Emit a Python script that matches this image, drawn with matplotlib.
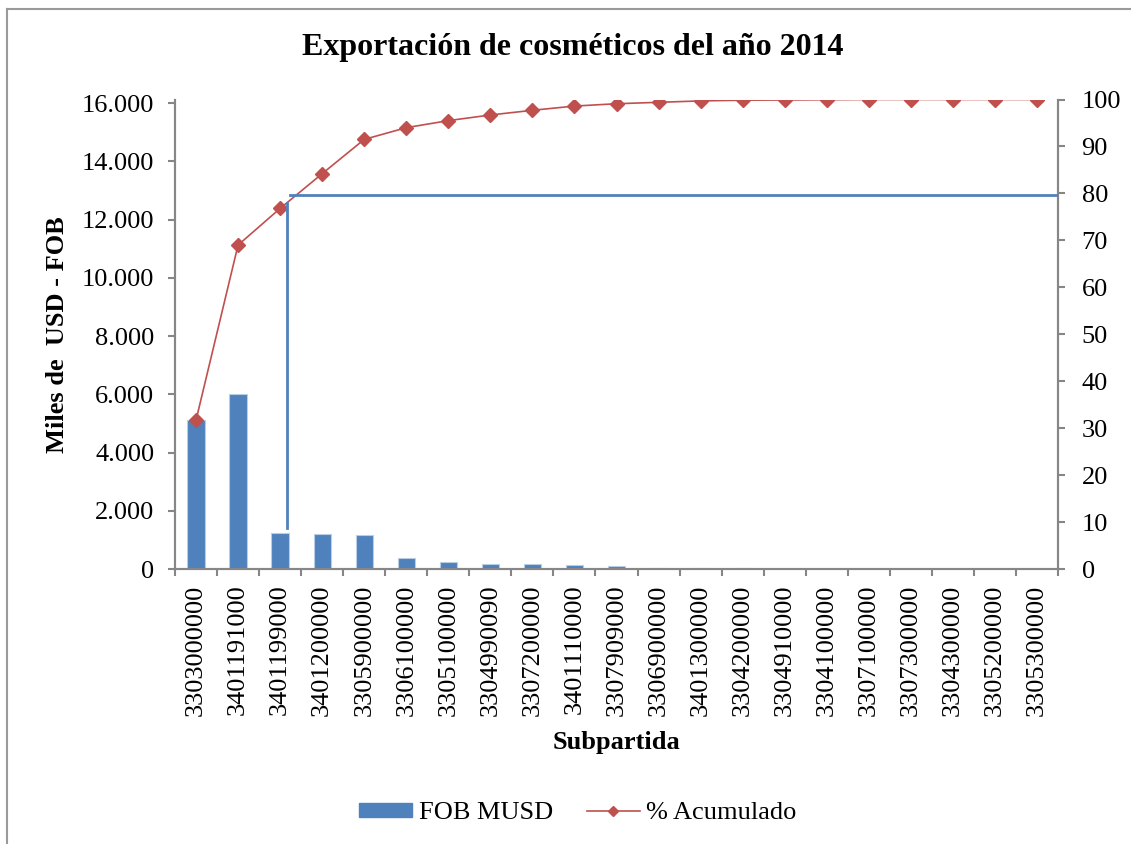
import numpy as np
import matplotlib
matplotlib.use("Agg")
import matplotlib.pyplot as plt
from matplotlib.lines import Line2D
from matplotlib.ticker import FuncFormatter

plt.rcParams['font.family'] = ['Liberation Serif', 'DejaVu Serif']

subpartidas = ['3303000000', '3401191000', '3401199000', '3401200000', '3305900000',
               '3306100000', '3305100000', '3304990090', '3307200000', '3401110000',
               '3307909000', '3306900000', '3401300000', '3304200000', '3304910000',
               '3304100000', '3307100000', '3307300000', '3304300000', '3305200000',
               '3305300000']
fob_musd = [5105, 6024, 1239, 1205, 1170, 379, 241, 182, 158, 138,
            103, 45, 35, 20, 15, 10, 8, 5, 4, 2, 2]
acumulado = [31.7, 69.0, 76.8, 84.2, 91.5, 94.0, 95.5, 96.7, 97.7, 98.6,
             99.1, 99.4, 99.7, 99.85, 99.9, 99.95, 100, 100, 100, 100, 100]
corte_pct = 80

bar_color = '#4F81BD'
line_color = '#C0504D'
axis_gray = '#868686'
fs = 19

fig = plt.figure(figsize=(11.31, 8.44), dpi=100)
ax = fig.add_axes([175/1131, 1 - 569/844, (1058 - 175)/1131, (569 - 99.5)/844])
ax2 = ax.twinx()

x = np.arange(len(subpartidas))
ax.bar(x, fob_musd, width=0.41, color=bar_color, edgecolor='#B9CDE5', linewidth=0.8, zorder=2)
ax2.plot(x, acumulado, color=line_color, lw=1.2, marker='D', markersize=7,
         markeredgecolor=line_color, zorder=3)

# lineas de corte al 80%
ax2.plot([2.17, 2.17], [8.8, 77.9], color=bar_color, lw=2, zorder=4)
ax2.plot([2.24, 20.5], [corte_pct - 0.4, corte_pct - 0.4], color=bar_color, lw=2, zorder=4)

ax.set_xlim(-0.5, len(subpartidas) - 0.5)
ax.set_ylim(0, 16130)
ax2.set_ylim(0, 100)
ax.set_yticks(np.arange(0, 16001, 2000))
ax.yaxis.set_major_formatter(FuncFormatter(lambda v, p: '0' if v == 0 else f'{int(v):,}'.replace(',', '.')))
ax2.set_yticks(np.arange(0, 101, 10))

ax.set_xticks(x)
ax.set_xticklabels(subpartidas, rotation=90, fontsize=fs)
ax.set_xticks(np.arange(-0.5, len(subpartidas), 1), minor=True)
ax.tick_params(axis='x', which='major', length=0, pad=11)
ax.tick_params(axis='x', which='minor', length=5, width=1.5, color=axis_gray)
ax.tick_params(axis='y', labelsize=fs, length=5, width=1.5, color=axis_gray, pad=10)
ax2.tick_params(axis='y', labelsize=fs, length=5, width=1.5, color=axis_gray, pad=12)

for a in (ax, ax2):
    a.spines['top'].set_visible(False)
    for s in ('left', 'right', 'bottom'):
        a.spines[s].set_color(axis_gray)
        a.spines[s].set_linewidth(1.5)

ax.set_ylabel('Miles de  USD - FOB', fontsize=fs, fontweight='bold', va='center')
ax.yaxis.set_label_coords(-(175 - 58)/883, 0.5)
ax.set_xlabel('Subpartida', fontsize=fs, fontweight='bold', va='center')
ax.xaxis.set_label_coords(0.5, -(743 - 569)/469.5)

fig.text(573/1131, 1 - 48/844, 'Exportación de cosméticos del año 2014', ha='center', va='center',
         fontsize=23, fontweight='bold')

handles = [plt.Rectangle((0, 0), 1, 1, color=bar_color),
           Line2D([], [], color=line_color, lw=1.2, marker='D', markersize=5.5)]
fig.legend(handles, ['FOB MUSD', '% Acumulado'], loc='center', bbox_to_anchor=(578/1131, 1 - 813/844),
           ncol=2, frameon=False, fontsize=fs, handlelength=2.0, handleheight=0.45,
           columnspacing=1.3, handletextpad=0.25)

# borde del grafico
fig.add_artist(Line2D([7/1131, 7/1131], [0, 1 - 9/844], color='#9A9A9A', lw=1.5))
fig.add_artist(Line2D([7/1131, 1], [1 - 9/844, 1 - 9/844], color='#9A9A9A', lw=1.5))

fig.savefig('out.png', dpi=100)
